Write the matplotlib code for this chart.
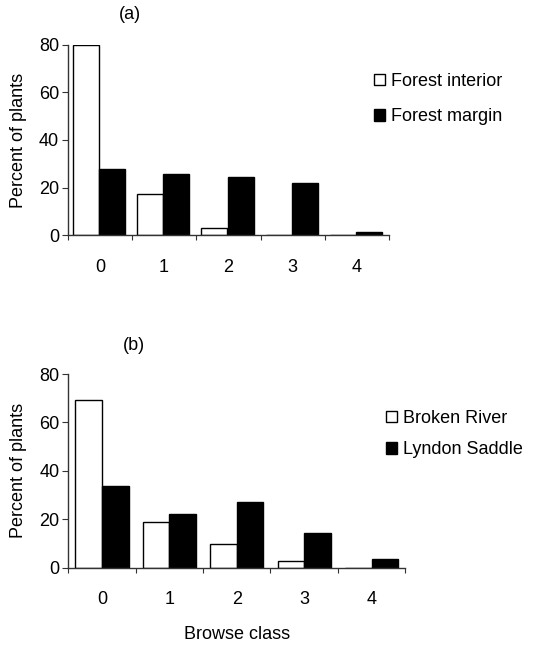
import matplotlib
matplotlib.use("Agg")
import matplotlib.pyplot as plt
import numpy as np

plt.rcParams['font.family'] = ['Liberation Sans', 'DejaVu Sans']

classes = ["0", "1", "2", "3", "4"]
a_interior = [80, 17.3, 3.3, 0, 0]
a_margin = [27.8, 25.8, 24.4, 21.8, 1.5]
b_broken = [69.2, 18.7, 9.7, 2.6, 0]
b_lyndon = [33.8, 22.2, 27.3, 14.5, 3.5]

FS = 13
fig = plt.figure(figsize=(5.33, 6.45), dpi=100)
ax1 = fig.add_axes([0.127, 0.635, 0.603, 0.296])
ax2 = fig.add_axes([0.128, 0.120, 0.632, 0.300])

def style(ax, s1, s2, l1, l2, title, ty, width, off1, off2, leg_xy, spacing):
    x = np.arange(len(classes))
    ax.bar(x + off1, s1, width, color='white', edgecolor='black', linewidth=1, label=l1)
    ax.bar(x + off2, s2, width, color='black', edgecolor='black', linewidth=1, label=l2)
    ax.set_xlim(-0.5, len(classes) - 0.5)
    ax.set_ylim(0, 80)
    ax.set_yticks([0, 20, 40, 60, 80])
    ax.set_xticks(np.arange(-0.5, len(classes), 1.0))
    ax.set_xticklabels([])
    ax.set_xticks(x, minor=True)
    ax.set_xticklabels(classes, minor=True)
    ax.tick_params(axis='x', which='major', length=3.6, direction='out', color='#333333')
    ax.tick_params(axis='x', which='minor', length=0, pad=17, labelsize=FS)
    ax.tick_params(axis='y', length=4.3, direction='out', labelsize=FS, color='#333333', pad=2)
    for s in ['top', 'right']:
        ax.spines[s].set_visible(False)
    for s in ['left', 'bottom']:
        ax.spines[s].set_color('#333333')
        ax.spines[s].set_linewidth(1)
    ax.set_ylabel("Percent of plants", fontsize=FS, labelpad=8.5)
    ax.text(0.195, ty, title, transform=ax.transAxes, ha='center', va='center', fontsize=FS)
    fig.legend(handles=ax.get_legend_handles_labels()[0], labels=[l1, l2],
               loc='upper left', bbox_to_anchor=leg_xy, bbox_transform=fig.transFigure,
               frameon=False, fontsize=FS, handlelength=0.62, handleheight=0.62,
               handletextpad=0.3, borderpad=0, borderaxespad=0, labelspacing=spacing)

style(ax1, a_interior, a_margin, "Forest interior", "Forest margin", "(a)", 1.155,
      0.405, -0.218, 0.19, (374 / 533, 1 - 73 / 645), 1.02)
style(ax2, b_broken, b_lyndon, "Broken River", "Lyndon Saddle", "(b)", 1.15,
      0.395, -0.195, 0.2, (386 / 533, 1 - 410 / 645), 0.8)
ax2.set_xlabel("Browse class", fontsize=FS, labelpad=13)

fig.savefig("out.png", dpi=100)
